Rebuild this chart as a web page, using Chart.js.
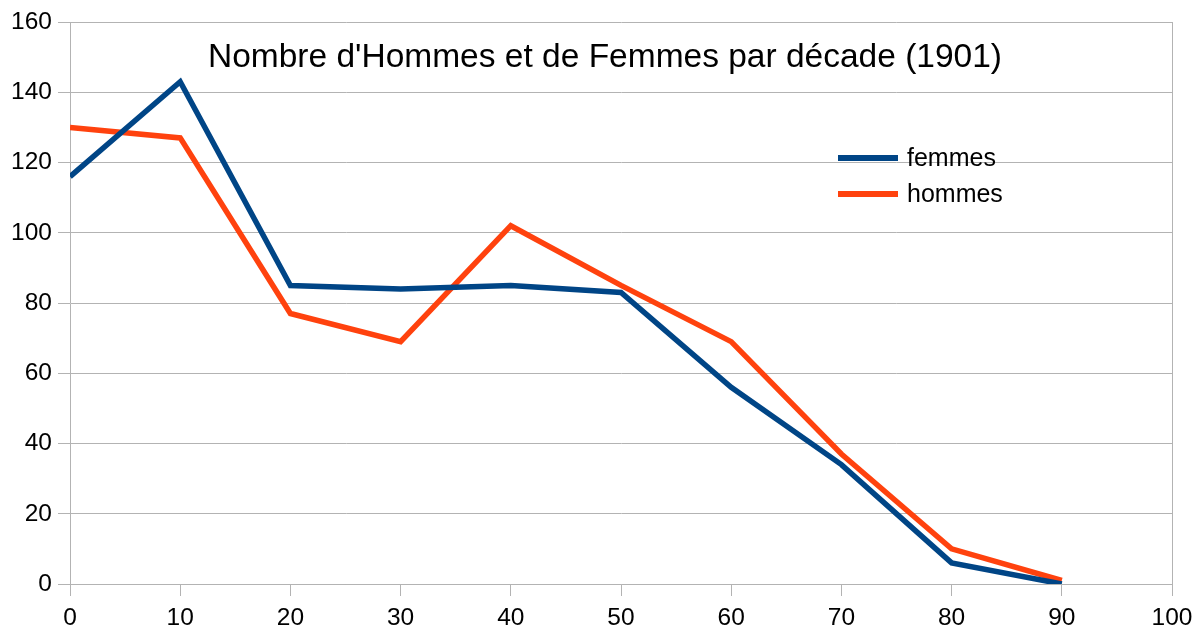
<!DOCTYPE html>
<html>
<head>
<meta charset="utf-8">
<script src="https://cdn.jsdelivr.net/npm/chart.js@4"></script>
<style>
  html, body { margin: 0; padding: 0; background: #fff; }
  #wrap { width: 1195px; height: 631px; }
</style>
</head>
<body>
<div id="wrap"><canvas id="chart"></canvas></div>
<script>
const decades = [0, 10, 20, 30, 40, 50, 60, 70, 80, 90];
const femmes = [116, 143, 85, 84, 85, 83, 56, 34, 6, 0];
const hommes = [130, 127, 77, 69, 102, 85, 69, 37, 10, 1];
const titre = "Nombre d'Hommes et de Femmes par décade (1901)";

const GRID = "#b3b3b3";
const FONT = "'Liberation Sans', Arial, sans-serif";

// titre et légende dessinés dans la zone du graphique
const overlay = {
  id: "overlay",
  afterDraw(chart) {
    const ctx = chart.ctx;
    ctx.save();
    ctx.fillStyle = "#000";
    ctx.font = "33.5px " + FONT;
    ctx.textAlign = "center";
    ctx.textBaseline = "middle";
    ctx.fillText(titre, 605, 58);

    ctx.font = "25px " + FONT;
    ctx.textAlign = "left";
    chart.data.datasets.forEach((ds, i) => {
      const y = 158 + i * 36;
      ctx.strokeStyle = ds.borderColor;
      ctx.lineWidth = 6;
      ctx.beginPath();
      ctx.moveTo(838, y);
      ctx.lineTo(898, y);
      ctx.stroke();
      ctx.fillText(ds.label, 907, y + 1);
    });
    ctx.restore();
  }
};

new Chart(document.getElementById("chart"), {
  type: "line",
  data: {
    datasets: [
      {
        label: "femmes",
        data: decades.map((d, i) => ({ x: d, y: femmes[i] })),
        borderColor: "#004586",
        borderWidth: 5.5,
        pointRadius: 0,
        tension: 0
      },
      {
        label: "hommes",
        data: decades.map((d, i) => ({ x: d, y: hommes[i] })),
        borderColor: "#ff420e",
        borderWidth: 5.5,
        pointRadius: 0,
        tension: 0
      }
    ]
  },
  options: {
    responsive: true,
    maintainAspectRatio: false,
    animation: false,
    layout: { padding: { top: 22, right: 23, left: 0, bottom: 0 } },
    plugins: {
      legend: { display: false },
      title: { display: false },
      tooltip: { enabled: false }
    },
    scales: {
      x: {
        type: "linear",
        min: 0,
        max: 100,
        afterFit: s => { s.height = 47; s.paddingLeft = 0; s.paddingRight = 0; },
        ticks: {
          stepSize: 10,
          color: "#000",
          font: { family: FONT, size: 24.5 },
          padding: 8,
          maxRotation: 0
        },
        grid: {
          color: c => (c.tick && c.tick.value === 100 ? GRID : "rgba(0,0,0,0)"),
          tickColor: GRID,
          tickLength: 12,
          lineWidth: 1
        },
        border: { color: GRID }
      },
      y: {
        min: 0,
        max: 160,
        afterFit: s => { s.width = 70; s.paddingTop = 0; s.paddingBottom = 0; },
        ticks: {
          stepSize: 20,
          color: "#000",
          font: { family: FONT, size: 24.5 },
          padding: 6
        },
        grid: {
          color: GRID,
          tickColor: GRID,
          tickLength: 12,
          lineWidth: 1
        },
        border: { color: GRID }
      }
    }
  },
  plugins: [overlay]
});
</script>
</body>
</html>
